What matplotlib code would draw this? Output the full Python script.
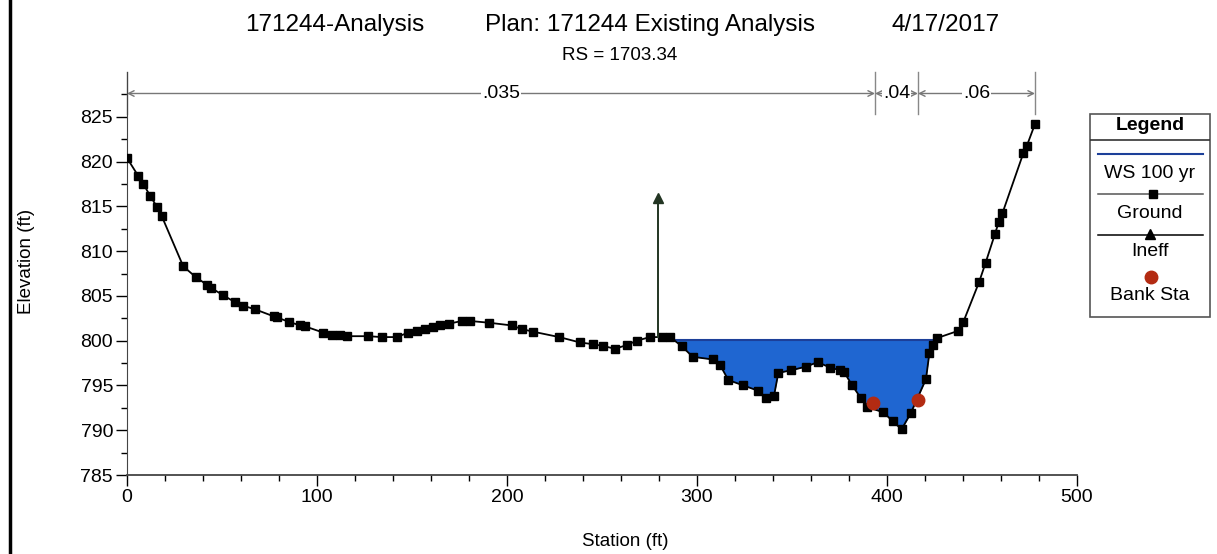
import numpy as np
import matplotlib
matplotlib.use("Agg")
import matplotlib.pyplot as plt
from matplotlib.lines import Line2D
from matplotlib.patches import Rectangle

plt.rcParams['font.family'] = ['Liberation Sans', 'DejaVu Sans']

# ground profile (station ft, elevation ft)
station = np.array([0, 5.9, 8.6, 12.1, 15.9, 18.3, 29.6, 36.2, 42.3, 44.2, 50.4, 56.8, 61.2, 67.4,
                    77.4, 78.8, 85.3, 91.1, 93.7, 103.3, 107.7, 112.1, 115.6, 127.0, 134.0, 141.9,
                    148.1, 152.5, 156.8, 161.2, 164.7, 169.6, 176.2, 180.5, 190.7, 202.5, 207.7,
                    213.8, 227.5, 238.4, 245.4, 250.7, 256.8, 263.0, 268.3, 275.3, 281.4, 285.8,
                    291.9, 297.7, 308.3, 312.1, 316.5, 324.4, 332.3, 336.3, 340.5, 342.8, 349.6,
                    357.4, 363.5, 370.0, 375.3, 377.4, 381.4, 386.2, 389.3, 398.1, 403.0, 407.7,
                    412.5, 420.5, 422.3, 424.4, 426.5, 437.5, 440.2, 448.4, 451.9, 456.8, 458.9,
                    460.7, 471.7, 473.5, 477.9])
ground = np.array([820.4, 818.4, 817.5, 816.2, 814.9, 813.9, 808.3, 807.1, 806.2, 805.9, 805.1, 804.3,
                   803.9, 803.5, 802.7, 802.6, 802.1, 801.7, 801.6, 800.9, 800.6, 800.6, 800.5, 800.5,
                   800.4, 800.4, 800.9, 801.1, 801.3, 801.5, 801.7, 801.9, 802.2, 802.2, 802.0, 801.7,
                   801.3, 801.0, 800.4, 799.8, 799.6, 799.4, 799.1, 799.5, 800.0, 800.4, 800.4, 800.4,
                   799.4, 798.2, 797.9, 797.3, 795.6, 795.0, 794.4, 793.6, 793.8, 796.4, 796.7, 797.1,
                   797.6, 797.0, 796.7, 796.5, 795.1, 793.6, 792.6, 792.0, 791.0, 790.1, 791.9, 795.7,
                   798.6, 799.5, 800.3, 801.1, 802.1, 806.5, 808.7, 811.9, 813.3, 814.2, 820.9, 821.7,
                   824.2])

ws_elev = 800.1
ws_sta = [287.9, 425.8]

bank_sta = [392.5, 416.5]
bank_elev = [793.0, 793.4]

ineff_sta = 279.5
ineff_elev = [800.4, 815.9]

n_sta = [0, 393.7, 416.3, 477.9]
n_vals = ['.035', '.04', '.06']

fig = plt.figure(figsize=(12.17, 5.54), dpi=100)
ax = fig.add_axes([127/1217, 1 - 475/554, 950/1217, 403/554])

# water
mask = (ground < ws_elev) & (station > ws_sta[0] - 3) & (station < ws_sta[1] + 1)
ax.fill_between(station, ground, ws_elev, where=mask, interpolate=True,
                color='#1f66d1', lw=0, zorder=1)
ax.plot(ws_sta, [ws_elev, ws_elev], color='#1c3f99', lw=1.5, zorder=2)

# ground
ax.plot(station, ground, color='black', lw=1.3, marker='s', ms=6, zorder=3)

# ineffective flow marker
ax.plot([ineff_sta, ineff_sta], ineff_elev, color='#233523', lw=1.4, zorder=4)
ax.plot([ineff_sta], [ineff_elev[1]], color='#233523', marker='^', ms=7, zorder=4)

# bank stations
ax.plot(bank_sta, bank_elev, ls='none', marker='o', ms=9, color='#b32b12', zorder=5)

# Manning's n brackets
y_dim = 827.6
for s in n_sta:
    ax.plot([s, s], [825.3, 830], color='#888888', lw=1, zorder=2, clip_on=False)
for i in range(len(n_vals)):
    ax.annotate('', xy=(n_sta[i], y_dim), xytext=(n_sta[i + 1], y_dim),
                arrowprops=dict(arrowstyle='<->', color='#777777', lw=1, shrinkA=0, shrinkB=0))
    ax.text((n_sta[i] + n_sta[i + 1]) / 2, y_dim, n_vals[i], fontsize=14, ha='center', va='center',
            bbox=dict(facecolor='white', edgecolor='none', pad=0.5))

ax.set_xlim(0, 500)
ax.set_ylim(785, 830)
ax.set_xticks(np.arange(0, 501, 100))
ax.set_xticks(np.arange(0, 501, 20), minor=True)
ax.set_yticks(np.arange(785, 826, 5))
ax.set_yticks(np.arange(787.5, 830, 5), minor=True)
ax.tick_params(axis='both', which='major', labelsize=14, length=8, width=1, pad=2)
ax.tick_params(axis='both', which='minor', length=4, width=1)
for sp in ['top', 'right']:
    ax.spines[sp].set_visible(False)
ax.spines['left'].set_color('#444444')
ax.spines['bottom'].set_color('#444444')
ax.spines['bottom'].set_linewidth(1.3)

ax.set_xlabel('Station (ft)', fontsize=13.5)
ax.xaxis.set_label_coords((625 - 127) / 950, -0.145)
ax.set_ylabel('Elevation (ft)', fontsize=13.5)
ax.yaxis.set_label_coords((35 - 127) / 950, 0.53)

# titles
fig.text(245/1217, 1 - 25/554, '171244-Analysis', fontsize=17.5, ha='left', va='center')
fig.text(485/1217, 1 - 25/554, 'Plan: 171244 Existing Analysis', fontsize=17.5, ha='left', va='center')
fig.text(891/1217, 1 - 25/554, '4/17/2017', fontsize=17.5, ha='left', va='center')
fig.text(620/1217, 1 - 55/554, 'RS = 1703.34', fontsize=13.5, ha='center', va='center')

# custom legend box
lg = fig.add_axes([1090/1217, 1 - 317/554, 120/1217, 203/554])
lg.set_xlim(0, 120)
lg.set_ylim(203, 0)
lg.axis('off')
lg.add_patch(Rectangle((0, 0), 120, 203, fill=False, edgecolor='#555555', lw=1.2, clip_on=False))
lg.plot([0, 120], [26, 26], color='#333333', lw=1.2)
lg.text(60, 12, 'Legend', fontsize=14, fontweight='bold', ha='center', va='center')
lg.plot([8, 113], [40, 40], color='#1c3f99', lw=1.5)
lg.text(60, 59, 'WS 100 yr', fontsize=14, ha='center', va='center')
lg.plot([8, 113], [80, 80], color='#555555', lw=1.1)
lg.plot([63], [80], marker='s', ms=6, color='black')
lg.text(60, 99, 'Ground', fontsize=14, ha='center', va='center')
lg.plot([8, 113], [121, 121], color='black', lw=1.1)
lg.plot([60], [120], marker='^', ms=7, color='black')
lg.text(60, 138, 'Ineff', fontsize=14, ha='center', va='center')
lg.plot([61], [163], marker='o', ms=9, color='#b32b12')
lg.text(60, 181, 'Bank Sta', fontsize=14, ha='center', va='center')

# left border of the window
fig.add_artist(Line2D([10/1217, 10/1217], [0, 1], transform=fig.transFigure, color='black', lw=2.5))

fig.savefig('out.png', dpi=100)
